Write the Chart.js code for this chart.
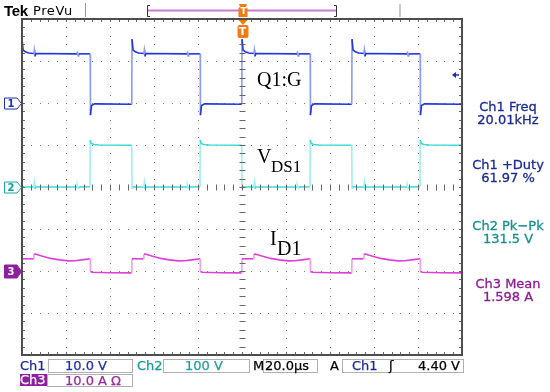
<!DOCTYPE html>
<html lang="en">
<head>
<meta charset="UTF-8">
<title>Q1 gate, VDS1 and ID1</title>
<script src="https://cdn.jsdelivr.net/npm/chart.js"></script>
<style>
  body { margin: 0; background: #fff; }
  #wrap { position: relative; width: 550px; height: 392px; overflow: hidden; font-family: "DejaVu Sans", sans-serif; }
  #scope { position: absolute; left: 0; top: 0; }
  .t { position: absolute; white-space: nowrap; }
  .meas { position: absolute; left: 462px; width: 92px; text-align: center; font-size: 13px; line-height: 13px; white-space: nowrap; -webkit-text-stroke: 0.3px; }
  .lab { position: absolute; font-family: "Liberation Serif", serif; color: #000; white-space: nowrap; }
  .bar { position: absolute; font-size: 13px; line-height: 12px; height: 12px; white-space: nowrap; -webkit-text-stroke: 0.25px; }
  .box { position: absolute; box-sizing: border-box; height: 14px; border: 1px solid #b0b0b0; font-size: 13px; line-height: 12px; white-space: nowrap; -webkit-text-stroke: 0.25px; }
  .num { position: absolute; font-size: 10px; font-weight: bold; line-height: 10px; width: 12px; text-align: center; }
</style>
</head>
<body>
<div id="wrap">
  <canvas id="scope" width="550" height="392"></canvas>

  <div class="t" style="left:4px;top:3px;font:bold 15px/15px 'Liberation Sans',sans-serif;letter-spacing:-0.3px">Tek</div>
  <div class="t" style="left:33px;top:4px;font-size:13px;line-height:13px;letter-spacing:0.6px">PreVu</div>
  <div class="t" style="left:239px;top:7px;width:9px;text-align:center;color:#fff;font:bold 9px/9px 'DejaVu Sans',sans-serif">T</div>
  <div class="t" style="left:237px;top:26px;width:11px;text-align:center;color:#fff;font:bold 11px/11px 'DejaVu Sans',sans-serif">T</div>

  <div class="num" style="left:5px;top:99px;color:#2030b0">1</div>
  <div class="num" style="left:5px;top:183px;color:#159a9a">2</div>
  <div class="num" style="left:5px;top:267px;color:#fff">3</div>

  <div class="lab" style="left:257px;top:69px;font-size:20px;line-height:20px">Q1:G</div>
  <div class="lab" style="left:257px;top:146px;font-size:20px;line-height:20px">V</div>
  <div class="lab" style="left:271px;top:158px;font-size:17px;line-height:17px">DS1</div>
  <div class="lab" style="left:270px;top:228px;font-size:20px;line-height:20px">I</div>
  <div class="lab" style="left:277px;top:238px;font-size:20px;line-height:20px">D1</div>

  <div class="meas" style="top:100px;color:#1c2c94">Ch1 Freq<br>20.01kHz</div>
  <div class="meas" style="top:158px;color:#1c2c94">Ch1 +Duty<br>61.97 %</div>
  <div class="meas" style="top:219px;color:#159090">Ch2 Pk−Pk<br>131.5 V</div>
  <div class="meas" style="top:277px;color:#8c1c94">Ch3 Mean<br>1.598 A</div>

  <div class="bar" style="left:20px;top:360px;color:#1c2c94">Ch1</div>
  <div class="box" style="left:48px;top:359px;width:85px;padding-left:16px;color:#2030a8">10.0 V</div>
  <div class="bar" style="left:137px;top:360px;color:#159a9a">Ch2</div>
  <div class="box" style="left:163px;top:359px;width:87px;padding-left:21px;color:#20a0a0">100 V</div>
  <div class="bar" style="left:253px;top:360px;color:#000">M</div>
  <div class="box" style="left:263px;top:359px;width:55px;padding-left:1px;color:#000">20.0µs</div>
  <div class="bar" style="left:330px;top:360px;color:#000">A</div>
  <div class="box" style="left:342px;top:359px;width:122px"></div>
  <div class="bar" style="left:352px;top:360px;color:#1c2c94">Ch1</div>
  <div class="bar" style="left:389px;top:360px;color:#000">ʃ</div>
  <div class="bar" style="left:418px;top:360px;color:#000">4.40 V</div>
  <div class="bar" style="left:20px;top:374px;width:27px;height:12px;background:#8e1f9e;color:#fff">Ch3</div>
  <div class="box" style="left:47px;top:374px;width:86px;height:13px;padding-left:17px;color:#9a2aa0">10.0 A Ω</div>
</div>

<script>
// time in µs, trigger at 0, 20 µs/div over 10 div
const timeMin = -100;
const timeMax = 100;

// per channel: units per division and ground offset in divisions from centre
const voltsPerDiv = [10, 100, 10];
const offsetDiv = [2, 0, -2];

// Ch1, gate Q1:G (V)
const ch1Time = [
  -100, -99.5, -98.5, -97, -94.6, -94.4, -94.1, -93.7, -75, -74.8, -74.5, -74.2, -69, -68.9, -68.4, -67,
  -50.1, -50, -49.5, -48.5, -47, -44.6, -44.4, -44.1, -43.7, -25, -24.8, -24.5, -24.2, -19, -18.9, -18.4, -17,
  -0.1, 0, 0.5, 1.5, 3, 5.4, 5.6, 5.9, 6.3, 25, 25.2, 25.5, 25.8, 31, 31.1, 31.6, 33,
  49.9, 50, 50.5, 51.5, 53, 55.4, 55.6, 55.9, 56.3, 75, 75.2, 75.5, 75.8, 81, 81.1, 81.6, 83,
  100
];
const ch1Volts = [
  15.2, 12.6, 12.2, 11.9, 11.8, 12.6, 11.1, 11.8, 11.7, 12.3, 11.2, 11.7, 11.7, -2.9, -0.6, -0.2,
  -0.3, 15.2, 12.6, 12.2, 11.9, 11.8, 12.6, 11.1, 11.8, 11.7, 12.3, 11.2, 11.7, 11.7, -2.9, -0.6, -0.2,
  -0.3, 15.2, 12.6, 12.2, 11.9, 11.8, 12.6, 11.1, 11.8, 11.7, 12.3, 11.2, 11.7, 11.7, -2.9, -0.6, -0.2,
  -0.3, 15.2, 12.6, 12.2, 11.9, 11.8, 12.6, 11.1, 11.8, 11.7, 12.3, 11.2, 11.7, 11.7, -2.9, -0.6, -0.2,
  -0.3
];

// Ch2, VDS1 (V)
const ch2Time = [
  -100, -99.7, -99, -94.6, -94.4, -94.1, -93.7, -75, -74.8, -74.5, -74.2, -69.1, -69, -68.6, -67.5, -65, -50.1,
  -50, -49.7, -49, -44.6, -44.4, -44.1, -43.7, -25, -24.8, -24.5, -24.2, -19.1, -19, -18.6, -17.5, -15, -0.1,
  0, 0.3, 1, 5.4, 5.6, 5.9, 6.3, 25, 25.2, 25.5, 25.8, 30.9, 31, 31.4, 32.5, 35, 49.9,
  50, 50.3, 51, 55.4, 55.6, 55.9, 56.3, 75, 75.2, 75.5, 75.8, 80.9, 81, 81.4, 82.5, 85, 100
];
const ch2Volts = [
  0, 1, 0, 0, 10, -4, 0, 0, 4, -2, 0, 0.5, 112, 104, 101, 100, 99.5,
  -3, 1, 0, 0, 10, -4, 0, 0, 4, -2, 0, 0.5, 112, 104, 101, 100, 99.5,
  -3, 1, 0, 0, 10, -4, 0, 0, 4, -2, 0, 0.5, 112, 104, 101, 100, 99.5,
  -3, 1, 0, 0, 10, -4, 0, 0, 4, -2, 0, 0.5, 112, 104, 101, 100, 99.5
];

// Ch3, ID1 (A)
const ch3Time = [
  -100, -94.8, -94.6, -94, -91, -87, -83, -79, -76, -72, -69, -68.9, -68, -60, -50.1,
  -50, -44.8, -44.6, -44, -41, -37, -33, -29, -26, -22, -19, -18.9, -18, -10, -0.1,
  0, 5.2, 5.4, 6, 9, 13, 17, 21, 24, 28, 31, 31.1, 32, 40, 49.9,
  50, 55.2, 55.4, 56, 59, 63, 67, 71, 74, 78, 81, 81.1, 82, 90, 100
];
const ch3Amps = [
  2.9, 2.9, 4.0, 4.05, 3.55, 3.0, 2.65, 2.42, 2.45, 2.7, 2.9, -0.1, -0.3, -0.4, -0.45,
  2.9, 2.9, 4.0, 4.05, 3.55, 3.0, 2.65, 2.42, 2.45, 2.7, 2.9, -0.1, -0.3, -0.4, -0.45,
  2.9, 2.9, 4.0, 4.05, 3.55, 3.0, 2.65, 2.42, 2.45, 2.7, 2.9, -0.1, -0.3, -0.4, -0.45,
  2.9, 2.9, 4.0, 4.05, 3.55, 3.0, 2.65, 2.42, 2.45, 2.7, 2.9, -0.1, -0.3, -0.4, -0.45
];

function pts(ts, vs) {
  return ts.map((t, i) => ({ x: t, y: vs[i] }));
}

// vertical edges are drawn fainter, like the scope does
function edgeColor(light) {
  return ctx => Math.abs(ctx.p1.x - ctx.p0.x) < 0.8 ? light : undefined;
}

function chAxis(i) {
  return {
    type: 'linear', display: false,
    min: (-4 - offsetDiv[i]) * voltsPerDiv[i],
    max: (4 - offsetDiv[i]) * voltsPerDiv[i]
  };
}

const graticule = {
  id: 'graticule',
  beforeDatasetsDraw(chart) {
    const { ctx } = chart;
    const sx = chart.scales.x, sy = chart.scales.y2;
    ctx.save();
    ctx.fillStyle = '#7a7a7a';
    for (let t = -80; t <= 80; t += 20) {
      const px = Math.round(sx.getPixelForValue(t));
      for (let v = -380; v <= 380; v += 20) ctx.fillRect(px, Math.round(sy.getPixelForValue(v)), 1, 1);
    }
    for (let v = -300; v <= 300; v += 100) {
      const py = Math.round(sy.getPixelForValue(v));
      for (let t = -96; t <= 96; t += 4) ctx.fillRect(Math.round(sx.getPixelForValue(t)), py, 1, 1);
    }
    ctx.restore();
  },
  afterDatasetsDraw(chart) {
    const { ctx, chartArea: a } = chart;
    const sx = chart.scales.x, sy = chart.scales.y2;
    const cx = Math.round(sx.getPixelForValue(0)) + 0.5;
    const cy = Math.round(sy.getPixelForValue(0)) + 0.5;
    ctx.save();
    ctx.strokeStyle = '#666';
    ctx.lineWidth = 1;
    ctx.beginPath();
    for (let t = -96; t <= 96; t += 4) {
      const px = Math.round(sx.getPixelForValue(t)) + 0.5;
      ctx.moveTo(px, cy - 3); ctx.lineTo(px, cy + 3);
      ctx.moveTo(px, a.top); ctx.lineTo(px, a.top + 3);
      ctx.moveTo(px, a.bottom); ctx.lineTo(px, a.bottom - 3);
    }
    for (let v = -380; v <= 380; v += 20) {
      const py = Math.round(sy.getPixelForValue(v)) + 0.5;
      ctx.moveTo(cx - 3, py); ctx.lineTo(cx + 3, py);
      ctx.moveTo(a.left, py); ctx.lineTo(a.left + 3, py);
      ctx.moveTo(a.right, py); ctx.lineTo(a.right - 3, py);
    }
    ctx.stroke();
    ctx.strokeStyle = '#4d4d4d';
    ctx.lineWidth = 2;
    ctx.strokeRect(a.left, a.top, a.right - a.left, a.bottom - a.top);
    ctx.restore();
  },
  afterDraw(chart) {
    const { ctx } = chart;
    ctx.save();
    // top status strip
    ctx.strokeStyle = '#999'; ctx.lineWidth = 1;
    ctx.beginPath(); ctx.moveTo(85.5, 3); ctx.lineTo(85.5, 17); ctx.stroke();
    ctx.strokeStyle = '#c77dd0'; ctx.lineWidth = 2;
    ctx.beginPath(); ctx.moveTo(148, 10.5); ctx.lineTo(336, 10.5); ctx.stroke();
    ctx.strokeStyle = '#333'; ctx.lineWidth = 1;
    ctx.beginPath();
    ctx.moveTo(150, 5.5); ctx.lineTo(147.5, 5.5); ctx.lineTo(147.5, 16.5); ctx.lineTo(150, 16.5);
    ctx.moveTo(334, 5.5); ctx.lineTo(336.5, 5.5); ctx.lineTo(336.5, 16.5); ctx.lineTo(334, 16.5);
    ctx.stroke();
    ctx.strokeStyle = '#c8c8c8'; ctx.lineWidth = 2;
    ctx.beginPath(); ctx.moveTo(400, 4); ctx.lineTo(400, 17); ctx.stroke();

    // trigger position markers
    const tx = chart.scales.x.getPixelForValue(0) + 1;
    ctx.fillStyle = '#f07d14';
    ctx.beginPath();
    ctx.moveTo(tx - 4, 4); ctx.lineTo(tx + 4, 4); ctx.lineTo(tx + 3, 7); ctx.lineTo(tx + 4.5, 8);
    ctx.lineTo(tx + 4.5, 17); ctx.lineTo(tx - 4.5, 17); ctx.lineTo(tx - 4.5, 8); ctx.lineTo(tx - 3, 7);
    ctx.closePath(); ctx.fill();
    ctx.beginPath();
    ctx.moveTo(tx - 4.5, 20); ctx.lineTo(tx + 4.5, 20); ctx.lineTo(tx, 25); ctx.closePath(); ctx.fill();
    ctx.beginPath();
    ctx.roundRect(tx - 5.5, 25, 11, 13, 2); ctx.fill();

    // trigger level arrow
    ctx.fillStyle = '#1a2ab0'; ctx.strokeStyle = '#1a2ab0'; ctx.lineWidth = 1.5;
    ctx.beginPath(); ctx.moveTo(452, 75); ctx.lineTo(456, 72); ctx.lineTo(456, 78); ctx.closePath(); ctx.fill();
    ctx.beginPath(); ctx.moveTo(455, 75); ctx.lineTo(459, 75); ctx.stroke();

    // channel ground markers
    const marks = [
      [chart.scales.y1.getPixelForValue(0), '#2030b0', '#fff'],
      [chart.scales.y2.getPixelForValue(0), '#20a8a8', '#f2ffff'],
      [chart.scales.y3.getPixelForValue(0), '#8e1f9e', '#8e1f9e']
    ];
    ctx.lineWidth = 1;
    marks.forEach(([yc, stroke, fill], i) => {
      const h = i === 2 ? 6.5 : 5.5;
      yc = Math.round(yc) + 0.5;
      ctx.beginPath();
      ctx.moveTo(4.5, yc - h); ctx.lineTo(17, yc - h); ctx.lineTo(21.5, yc);
      ctx.lineTo(17, yc + h); ctx.lineTo(4.5, yc + h); ctx.closePath();
      ctx.fillStyle = fill; ctx.fill();
      ctx.strokeStyle = stroke; ctx.stroke();
    });
    ctx.restore();
  }
};

new Chart(document.getElementById('scope'), {
  type: 'line',
  data: {
    datasets: [
      {
        label: 'Q1:G', data: pts(ch1Time, ch1Volts), yAxisID: 'y1',
        borderColor: '#2236dc', borderWidth: 1.6, pointRadius: 0,
        segment: { borderColor: edgeColor('#8e9cf0') }
      },
      {
        label: 'VDS1', data: pts(ch2Time, ch2Volts), yAxisID: 'y2',
        borderColor: '#3cdada', borderWidth: 1.6, pointRadius: 0,
        segment: { borderColor: edgeColor('#9cf0f0') }
      },
      {
        label: 'ID1', data: pts(ch3Time, ch3Amps), yAxisID: 'y3',
        borderColor: '#e03ed8', borderWidth: 1.6, pointRadius: 0,
        segment: { borderColor: edgeColor('#f0a0ec') }
      }
    ]
  },
  options: {
    responsive: false,
    animation: false,
    devicePixelRatio: 1,
    events: [],
    layout: { padding: { left: 22, right: 88, top: 19, bottom: 37 } },
    plugins: { legend: { display: false }, tooltip: { enabled: false } },
    scales: {
      x: { type: 'linear', display: false, min: timeMin, max: timeMax },
      y1: chAxis(0),
      y2: chAxis(1),
      y3: chAxis(2)
    }
  },
  plugins: [graticule]
});
</script>
</body>
</html>
